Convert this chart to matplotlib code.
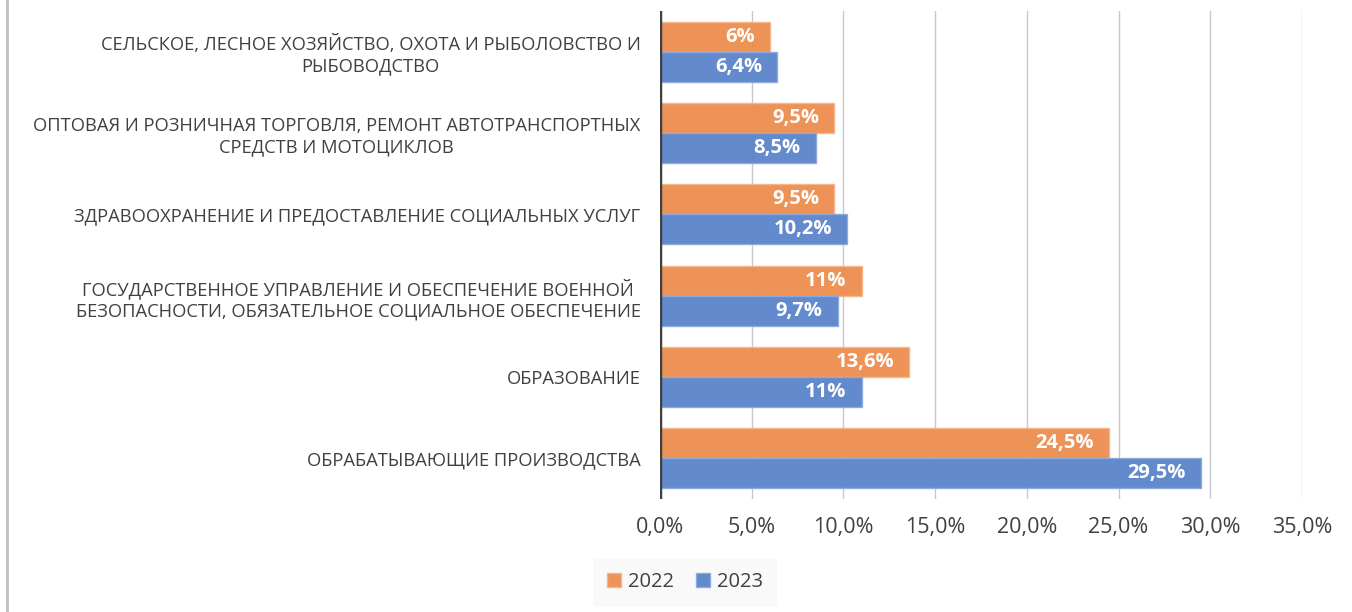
import matplotlib.pyplot as plt
import numpy as np
from matplotlib.lines import Line2D

plt.rcParams['font.family'] = ['Open Sans', 'DejaVu Sans']

categories = [
    "СЕЛЬСКОЕ, ЛЕСНОЕ ХОЗЯЙСТВО, ОХОТА И РЫБОЛОВСТВО И\nРЫБОВОДСТВО",
    "ОПТОВАЯ И РОЗНИЧНАЯ ТОРГОВЛЯ, РЕМОНТ АВТОТРАНСПОРТНЫХ\nСРЕДСТВ И МОТОЦИКЛОВ",
    "ЗДРАВООХРАНЕНИЕ И ПРЕДОСТАВЛЕНИЕ СОЦИАЛЬНЫХ УСЛУГ",
    "ГОСУДАРСТВЕННОЕ УПРАВЛЕНИЕ И ОБЕСПЕЧЕНИЕ ВОЕННОЙ\nБЕЗОПАСНОСТИ, ОБЯЗАТЕЛЬНОЕ СОЦИАЛЬНОЕ ОБЕСПЕЧЕНИЕ",
    "ОБРАЗОВАНИЕ",
    "ОБРАБАТЫВАЮЩИЕ ПРОИЗВОДСТВА",
]
vals_2022 = [6, 9.5, 9.5, 11, 13.6, 24.5]
vals_2023 = [6.4, 8.5, 10.2, 9.7, 11, 29.5]
series_names = ["2022", "2023"]
xticks = [0, 5, 10, 15, 20, 25, 30, 35]

orange = "#EE8D4E"
blue = "#5B84CB"
text_col = "#404040"


def fmt(v):
    s = ("%g" % v).replace(".", ",")
    return s + "%"


fig = plt.figure(figsize=(13.52, 6.12), dpi=100)
ax = fig.add_axes([660 / 1352, 1 - 499 / 612, 642 / 1352, 488 / 612])

y = np.arange(len(categories))
h = 0.37
b1 = ax.barh(y - h / 2, vals_2022, height=h, color=orange, edgecolor="#F6B48A",
             linewidth=1, alpha=0.95, label=series_names[0], zorder=2)
b2 = ax.barh(y + h / 2, vals_2023, height=h, color=blue, edgecolor="#8DA9DD",
             linewidth=1, alpha=0.95, label=series_names[1], zorder=2)

for bars, vals in ((b1, vals_2022), (b2, vals_2023)):
    for r, v in zip(bars, vals):
        ax.annotate(fmt(v), (v, r.get_y() + r.get_height() / 2), xytext=(-11, 0),
                    textcoords="offset points", ha="right", va="center",
                    color="white", fontsize=14.5, fontweight="bold", zorder=4)

ax.set_xlim(0, 35)
ax.set_ylim(len(categories) - 0.5, -0.5)
ax.set_xticks(xticks)
ax.set_xticklabels([("%.1f" % t).replace(".", ",") + "%" for t in xticks],
                   fontsize=15.5, color=text_col)
ax.set_yticks(y)
ax.set_yticklabels(categories, fontsize=13.2, color=text_col,
                   multialignment="center", linespacing=1.25)
ax.tick_params(axis="both", length=0)
ax.tick_params(axis="x", pad=13)
ax.tick_params(axis="y", pad=14)
ax.grid(axis="x", color="#C8C8C8", linewidth=1, zorder=0)
ax.set_axisbelow(True)
for s in ax.spines.values():
    s.set_visible(False)
ax.axvline(0, color="#404040", linewidth=3.2, zorder=5)

leg = fig.legend(loc="center", bbox_to_anchor=(685 / 1352, 1 - 582 / 612), ncol=2,
                 frameon=True, fontsize=14.5, handlelength=0.7, handleheight=0.7,
                 handletextpad=0.35, columnspacing=1.1, borderpad=0.65)
leg.get_frame().set_facecolor("#F8F8F8")
leg.get_frame().set_edgecolor("#F8F8F8")
leg.get_frame().set_boxstyle("square", pad=0)
for t in leg.get_texts():
    t.set_color(text_col)

fig.add_artist(Line2D([7 / 1352, 7 / 1352], [0, 1], color="#BFBFBF", linewidth=2,
                      transform=fig.transFigure))

fig.savefig("out.png", dpi=100)
